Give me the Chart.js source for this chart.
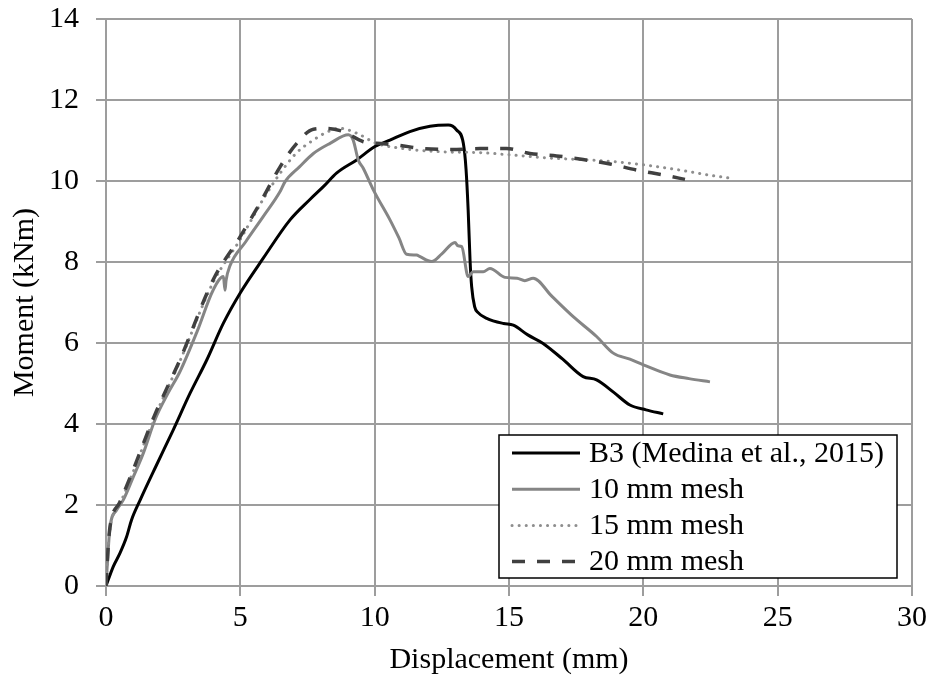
<!DOCTYPE html>
<html>
<head>
<meta charset="utf-8">
<script src="https://cdn.jsdelivr.net/npm/chart.js@4/dist/chart.umd.min.js"></script>
<style>
html,body{margin:0;padding:0;background:#fff;}
#wrap{width:933px;height:684px;position:relative;}
</style>
</head>
<body>
<div id="wrap"><canvas id="c" width="933" height="684"></canvas></div>
<script>
// ---- data (displacement mm, moment kNm) ----
const xTicks = [0, 5, 10, 15, 20, 25, 30];
const yTicks = [0, 2, 4, 6, 8, 10, 12, 14];
const seriesNames = ["B3 (Medina et al., 2015)", "10 mm mesh", "15 mm mesh", "20 mm mesh"];

const b3 = [[0,0],[0.27,0.48],[0.52,0.81],[0.77,1.22],[0.95,1.63],[1.27,2.12],[1.89,3.0],[2.5,3.85],[3.13,4.76],[3.75,5.58],[4.37,6.49],[4.99,7.23],[5.86,8.1],[6.85,9.04],[7.6,9.55],[8.09,9.86],[8.59,10.2],[9.33,10.52],[10.01,10.85],[10.57,11.01],[11.31,11.22],[12.06,11.35],[12.74,11.38],[13.05,11.26],[13.3,10.93],[13.4,10.3],[13.48,9.28],[13.55,8.05],[13.61,7.39],[13.72,6.9],[13.85,6.75],[14.17,6.61],[14.8,6.48],[15.16,6.44],[15.7,6.2],[16.27,5.99],[17.0,5.6],[17.76,5.17],[18.26,5.09],[18.9,4.78],[19.5,4.47],[20.1,4.35],[20.74,4.25]];

const mesh10 = [[0,0],[0.09,0.97],[0.15,1.46],[0.4,1.88],[0.64,2.12],[1.02,2.7],[1.39,3.28],[1.82,4.1],[2.3,4.75],[2.75,5.29],[3.4,6.3],[3.99,7.31],[4.37,7.64],[4.43,7.3],[4.47,7.55],[4.61,7.9],[5.2,8.5],[5.85,9.12],[6.48,9.74],[6.66,9.98],[7.2,10.35],[7.72,10.68],[8.34,10.93],[9.02,11.14],[9.2,11.01],[9.39,10.52],[9.58,10.31],[9.95,9.78],[10.57,9.04],[10.9,8.6],[11.19,8.19],[11.56,8.17],[11.69,8.13],[12.12,8.01],[12.5,8.2],[12.99,8.48],[13.1,8.4],[13.24,8.38],[13.48,7.64],[13.67,7.76],[14.04,7.76],[14.29,7.84],[14.85,7.62],[15.3,7.6],[15.59,7.54],[15.9,7.6],[16.6,7.15],[17.39,6.65],[18.26,6.16],[18.88,5.75],[19.5,5.6],[20.0,5.46],[20.99,5.21],[21.7,5.12],[22.48,5.04]];

const mesh15 = [[0,0],[0.1,1.1],[0.2,1.6],[0.5,2.0],[1.0,2.8],[1.8,4.15],[2.75,5.55],[3.99,7.5],[4.99,8.55],[5.85,9.55],[6.48,10.19],[7.1,10.7],[7.72,11.01],[8.2,11.2],[8.71,11.3],[9.33,11.18],[10.07,10.93],[11.06,10.8],[12.55,10.72],[13.92,10.7],[15.16,10.64],[16.4,10.57],[17.64,10.53],[18.88,10.48],[20.12,10.39],[21.36,10.27],[22.6,10.13],[23.35,10.06]];

const mesh20 = [[0,0],[0.1,1.15],[0.2,1.65],[0.5,2.05],[1.0,2.85],[1.8,4.2],[2.75,5.58],[3.99,7.56],[4.99,8.62],[5.73,9.45],[6.48,10.35],[7.1,10.93],[7.72,11.28],[8.21,11.3],[8.83,11.22],[9.58,10.97],[10.07,10.93],[10.82,10.89],[11.81,10.8],[13.05,10.78],[13.92,10.8],[14.91,10.8],[15.78,10.68],[16.77,10.62],[17.76,10.53],[18.76,10.42],[19.75,10.27],[20.74,10.15],[21.55,10.04]];

const toXY = arr => arr.map(p => ({x: p[0], y: p[1]}));
const FONT = "'Liberation Serif', 'Times New Roman', serif";
const GRID = '#9d9d9d';

const legendPlugin = {
  id: 'boxLegend',
  afterDatasetsDraw(chart, args, opts) {
    const ctx = chart.ctx, a = chart.chartArea;
    const right = a.right - opts.offsetRight, bottom = a.bottom - opts.offsetBottom;
    const left = right - opts.width, top = bottom - opts.height;
    ctx.save();
    ctx.fillStyle = '#fff';
    ctx.fillRect(left, top, opts.width, opts.height);
    ctx.strokeStyle = '#000';
    ctx.lineWidth = 1.5;
    ctx.strokeRect(left, top, opts.width, opts.height);
    ctx.font = opts.fontSize + 'px ' + FONT;
    ctx.textBaseline = 'middle';
    ctx.textAlign = 'left';
    chart.data.datasets.forEach((ds, i) => {
      const y = top + opts.firstRow + i * opts.rowGap;
      ctx.save();
      ctx.strokeStyle = ds.borderColor;
      ctx.lineWidth = ds.borderWidth;
      ctx.lineCap = ds.borderCapStyle || 'butt';
      ctx.setLineDash(ds.borderDash || []);
      ctx.beginPath();
      ctx.moveTo(left + opts.lineStart, y);
      ctx.lineTo(left + opts.lineStart + opts.lineLen, y);
      ctx.stroke();
      ctx.restore();
      ctx.fillStyle = '#000';
      ctx.fillText(ds.label, left + opts.textStart, y + 1);
    });
    ctx.restore();
  }
};

new Chart(document.getElementById('c'), {
  type: 'scatter',
  data: {
    datasets: [
      {label: seriesNames[0], data: toXY(b3), showLine: true, borderColor: '#000000', borderWidth: 3, pointRadius: 0, cubicInterpolationMode: 'monotone', order: 4},
      {label: seriesNames[1], data: toXY(mesh10), showLine: true, borderColor: '#858585', borderWidth: 3, pointRadius: 0, cubicInterpolationMode: 'monotone', order: 3},
      {label: seriesNames[2], data: toXY(mesh15), showLine: true, borderColor: '#8e8e8e', borderWidth: 3, borderDash: [0.1, 7], borderCapStyle: 'round', pointRadius: 0, cubicInterpolationMode: 'monotone', order: 2},
      {label: seriesNames[3], data: toXY(mesh20), showLine: true, borderColor: '#404040', borderWidth: 3.5, borderDash: [13, 12], pointRadius: 0, cubicInterpolationMode: 'monotone', order: 1}
    ]
  },
  options: {
    responsive: false,
    animation: false,
    layout: {padding: {left: 0, right: 21, top: 19, bottom: 0}},
    plugins: {
      legend: {display: false},
      tooltip: {enabled: false},
      boxLegend: {offsetRight: 15, offsetBottom: 8, width: 398, height: 143, firstRow: 18, rowGap: 36.2, lineStart: 13, lineLen: 68, textStart: 90, fontSize: 30}
    },
    scales: {
      x: {
        type: 'linear', min: 0, max: 30,
        afterBuildTicks: s => { s.ticks = xTicks.map(v => ({value: v})); },
        afterFit: s => { s.height = 98; s.paddingLeft = 0; s.paddingRight = 0; },
        grid: {color: GRID, lineWidth: 2, tickLength: 10, drawTicks: true},
        border: {color: GRID, width: 2},
        ticks: {color: '#000', font: {family: FONT, size: 30}, padding: 4, maxRotation: 0},
        title: {display: true, text: 'Displacement (mm)', color: '#000', font: {family: FONT, size: 30, lineHeight: 1.2}, padding: {top: 0, bottom: 6}}
      },
      y: {
        type: 'linear', min: 0, max: 14,
        afterBuildTicks: s => { s.ticks = yTicks.map(v => ({value: v})); },
        afterFit: s => { s.width = 106; s.paddingTop = 0; s.paddingBottom = 0; },
        grid: {color: GRID, lineWidth: 2, tickLength: 10, drawTicks: true},
        border: {color: GRID, width: 2},
        ticks: {color: '#000', font: {family: FONT, size: 30}, padding: 17},
        title: {display: true, text: 'Moment (kNm)', color: '#000', font: {family: FONT, size: 30, lineHeight: 1.2}, padding: {top: 7, bottom: 0}}
      }
    }
  },
  plugins: [legendPlugin]
});
</script>
</body>
</html>
